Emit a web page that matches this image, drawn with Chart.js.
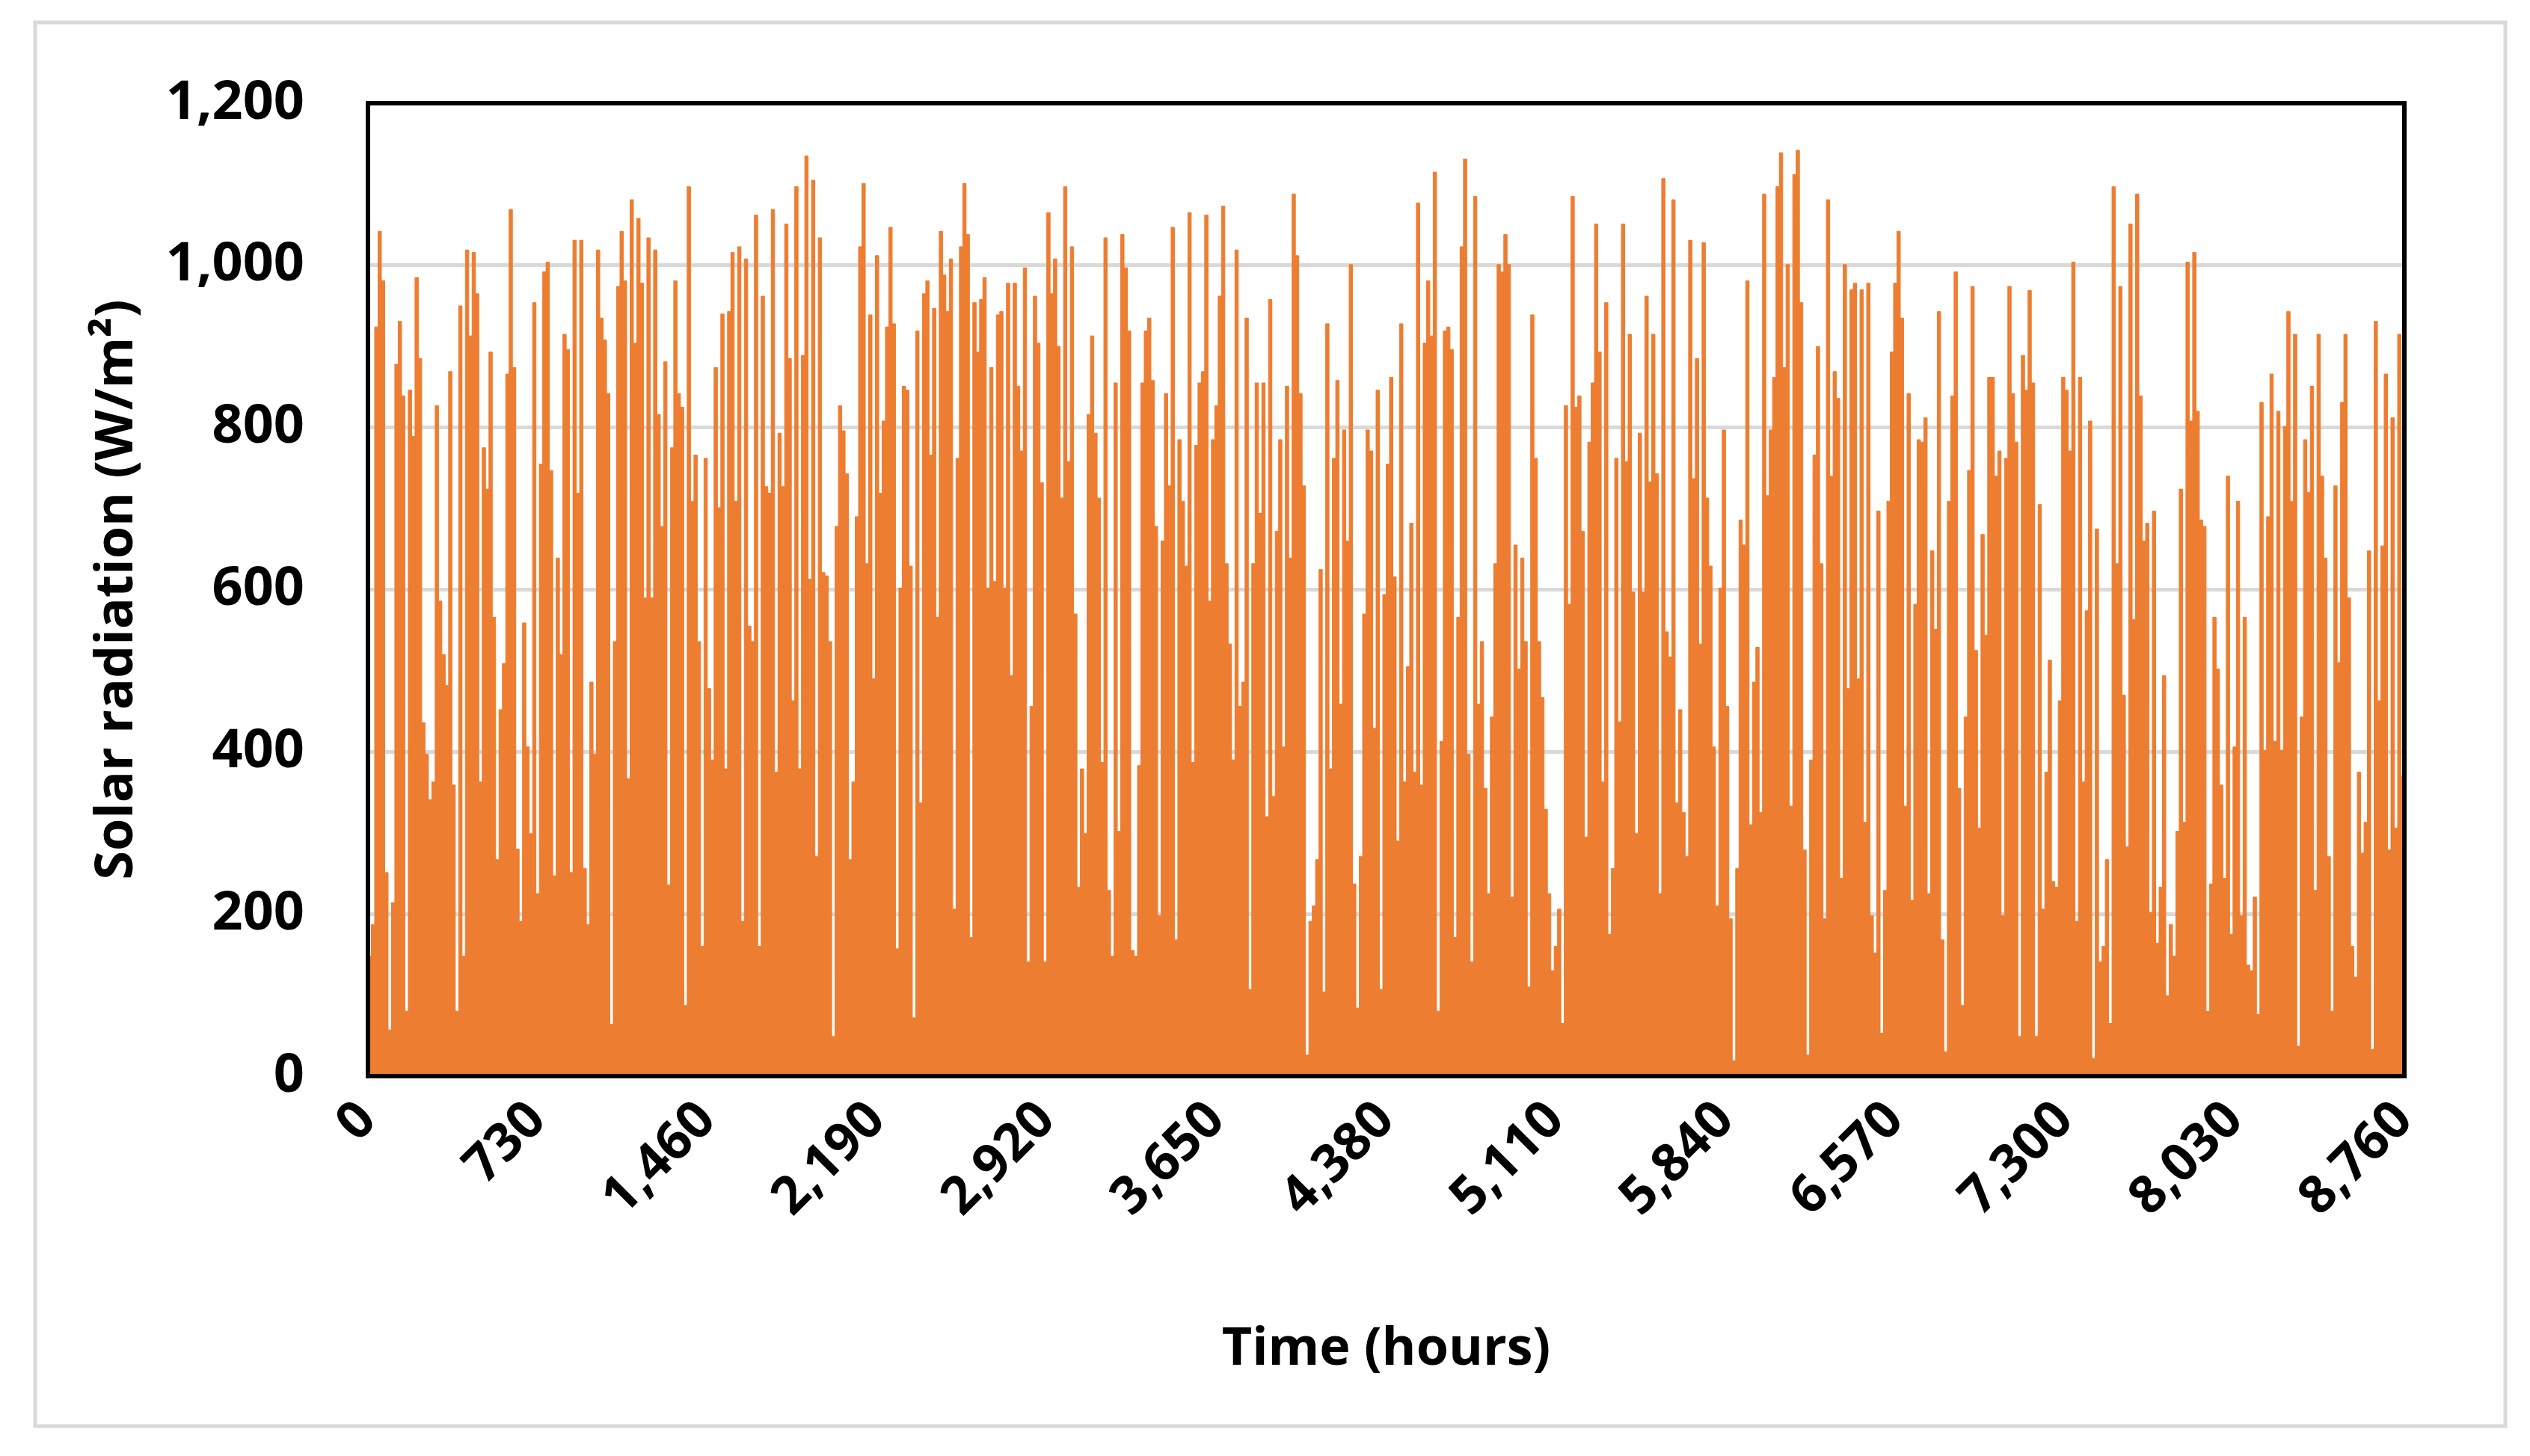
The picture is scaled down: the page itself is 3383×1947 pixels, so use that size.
<!DOCTYPE html>
<html>
<head>
<meta charset="utf-8">
<script src="https://cdn.jsdelivr.net/npm/chart.js@4"></script>
<style>
  html, body { margin: 0; padding: 0; background: #fff; }
  #wrap { position: absolute; left: 0; top: 0; width: 3383px; height: 1947px; }
</style>
</head>
<body>
<div id="wrap"><canvas id="chart"></canvas></div>
<script>
// Solar radiation profile, one value per visible column (~14 h each)
const radiationPart1 = [148,187,924,1042,981,251,57,214,878,931,839,80,846,789,985,885,436,397,341,363,827,586,520,482,869,359,80,950,148,1019,913,1016,965,363,775,724,893,566,267,452,509,866,1069,874,280,191,559,406,299,954,225,755,992,1004,747,247,639,520,915,896,251,1031,719,1031,256,187,486,397,1019,935,908,842,64,536,974,1042,981,367,1081,904,1058,978,590,1034,590,1019,816,678,881,236,775,981,842,825,87,1097,709,766,536,160,762,478,390,874,701,940,379,943,1016,709,1023,191,1008,555,536,1062,160,962,727,719,1069,375,793,727,1051,885,463,1097,379,889,1135,613,1105,271,1034,621,617,536,49,678,827,796,743,267,363,690,1023,1101,632,939,490,1012,719,808,924];
const radiationPart2 = [1047,928,157,602,851,846,629,72,919,337,965,981,766,947,566,1042,988,943,1008,206,762,1023,1101,1038,171,954,893,958,985,602,874,610,939,943,602,978,494,978,851,771,997,141,456,962,904,732,141,1065,965,1008,900,713,1097,758,1023,570,233,379,299,816,913,793,713,387,1034,229,148,855,302,1038,997,919,155,148,383,855,919,935,858,678,198,660,842,728,1047,168,785,709,629,1065,387,778,855,869,1062,586,785,827,962,1073,632,533,390,1019,456,486,935,107,632,855,694,855,320,958,345,672,785,406,851,639,1088,1012,842,728,26,191,210,267,625,104,928,379,762,858,459,797,660,1001,237,84,271,570,797,771,429,846,107,594,755,862];
const radiationPart3 = [616,290,928,363,505,682,375,1077,359,904,981,913,1115,80,413,919,924,896,171,566,1023,1131,397,141,1085,459,536,355,225,443,632,1001,992,1038,1001,221,655,502,639,536,110,939,762,536,467,329,225,130,160,206,65,827,582,1085,825,839,672,295,782,855,1051,893,363,954,175,256,762,437,1051,758,915,597,299,793,597,962,733,915,743,225,1107,548,517,1081,337,452,325,271,1031,737,885,533,1028,713,629,406,210,602,797,456,194,19,256,686,655,981,310,486,529,325,1088,716,797,862,1097,1139,874,1001,333,1112,1142,954,279,26,390,766,900,632,194,1081,740,869,836,244,1001,478,970,978,490,970,313,978,198,152,697,53,229,709,893,978];
const radiationPart4 = [1042,935,333,842,217,582,785,782,812,225,648,551,943,168,30,709,839,992,355,87,443,747,974,525,306,668,544,862,862,740,771,198,762,974,842,782,49,889,846,969,855,49,705,206,375,513,240,233,463,862,846,771,1004,191,862,363,574,808,22,675,141,160,267,65,1097,632,974,470,283,1051,563,1088,839,660,682,202,697,164,233,494,99,187,148,302,724,313,1004,808,1016,820,686,678,80,237,566,502,359,244,740,175,406,709,198,566,137,130,221,76,831,402,690,866,413,820,402,801,943,709,915,37,443,785,720,851,229,915,740,639,271,80,728,510,831,915,590,160,122,375,275,313,648,33,931,463,654,866,279,812,306,915,370];

const radiation = radiationPart1.concat(radiationPart2, radiationPart3, radiationPart4);
const yTicks = [0, 200, 400, 600, 800, 1000, 1200];
const xTicks = [0, 730, 1460, 2190, 2920, 3650, 4380, 5110, 5840, 6570, 7300, 8030, 8760];
const totalHours = 8760;

const points = radiation.map((v, i) => ({ x: (i + 0.5) * totalHours / radiation.length, y: v }));

const FONT = '"Open Sans", "DejaVu Sans", sans-serif';

const framePlugin = {
  id: "frame",
  beforeDraw(chart) {
    const ctx = chart.ctx;
    ctx.save();
    ctx.fillStyle = "#fff";
    ctx.fillRect(0, 0, chart.width, chart.height);
    ctx.strokeStyle = "#d9d9d9";
    ctx.lineWidth = 5;
    ctx.strokeRect(47, 30, 3303, 1877);
    ctx.restore();
  },
  afterDatasetsDraw(chart) {
    const a = chart.chartArea;
    const ctx = chart.ctx;
    ctx.save();
    ctx.strokeStyle = "#000";
    ctx.lineWidth = 6;
    ctx.strokeRect(a.left, a.top, a.right - a.left, a.bottom - a.top);
    ctx.restore();
  }
};

new Chart(document.getElementById("chart").getContext("2d"), {
  type: "line",
  data: {
    datasets: [
      {
        data: points,
        stepped: "middle",
        fill: "origin",
        backgroundColor: "#ed7d31",
        borderColor: "#ed7d31",
        borderWidth: 1,
        pointRadius: 0
      }
    ]
  },
  options: {
    responsive: true,
    maintainAspectRatio: false,
    animation: false,
    layout: { padding: { left: 60, top: 138, right: 168, bottom: 0 } },
    plugins: { legend: { display: false }, tooltip: { enabled: false } },
    scales: {
      x: {
        type: "linear",
        min: 0,
        max: totalHours,
        afterBuildTicks(scale) {
          scale.ticks = xTicks.map(v => ({ value: v }));
        },
        afterFit(scale) { scale.height = 1947 - 1439; },
        grid: { display: false, drawTicks: false },
        border: { display: false },
        ticks: {
          minRotation: 45,
          maxRotation: 45,
          padding: 18,
          color: "#000",
          font: { family: FONT, size: 70, weight: "bold" }
        },
        title: {
          display: true,
          text: "Time (hours)",
          color: "#000",
          font: { family: FONT, size: 70, weight: "bold" },
          padding: { top: 0, bottom: 100 }
        }
      },
      y: {
        min: 0,
        max: 1200,
        afterBuildTicks(scale) {
          scale.ticks = yTicks.map(v => ({ value: v }));
        },
        afterFit(scale) { scale.width = 492 - 60; },
        grid: { color: "#d9d9d9", lineWidth: 5, drawTicks: false },
        border: { display: false },
        ticks: {
          padding: 85,
          color: "#000",
          font: { family: FONT, size: 72, weight: "bold" }
        },
        title: {
          display: true,
          text: "Solar radiation (W/m²)",
          color: "#000",
          font: { family: FONT, size: 70, weight: "bold" },
          padding: { top: 55, bottom: 0 }
        }
      }
    }
  },
  plugins: [framePlugin]
});
</script>
</body>
</html>
